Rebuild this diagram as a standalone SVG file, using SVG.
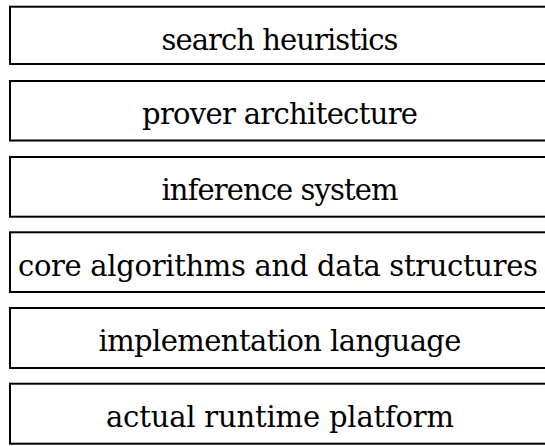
<svg xmlns="http://www.w3.org/2000/svg" width="545" height="446" viewBox="0 0 545 446">
<style>
.box{fill:#fff;stroke:#000;stroke-width:2}
.lbl{font-family:'DejaVu Serif',serif;font-size:29px;fill:#000;text-anchor:middle}
</style>
<rect width="545" height="446" fill="#fff"/>
<g id="search-heuristics">
<rect class="box" x="10" y="6.7" width="540" height="57.3"/>
<text class="lbl" x="280" y="50" textLength="237" lengthAdjust="spacing">search heuristics</text>
</g>
<g id="prover-architecture">
<rect class="box" x="10" y="81" width="540" height="59.5"/>
<text class="lbl" x="280" y="124.4" textLength="276" lengthAdjust="spacing">prover architecture</text>
</g>
<g id="inference-system">
<rect class="box" x="10" y="157" width="540" height="59.7"/>
<text class="lbl" x="280" y="200.4" textLength="237" lengthAdjust="spacing">inference system</text>
</g>
<g id="core-algorithms">
<rect class="box" x="10" y="232.3" width="540" height="59.7"/>
<text class="lbl" x="278" y="275.7" textLength="520" lengthAdjust="spacing">core algorithms and data structures</text>
</g>
<g id="implementation-language">
<rect class="box" x="10" y="308" width="540" height="60"/>
<text class="lbl" x="280" y="351.4" textLength="363" lengthAdjust="spacing">implementation language</text>
</g>
<g id="actual-runtime-platform">
<rect class="box" x="10" y="383.7" width="540" height="60"/>
<text class="lbl" x="280" y="427.1" textLength="348" lengthAdjust="spacing">actual runtime platform</text>
</g>
<g id="connectors"></g>
</svg>
